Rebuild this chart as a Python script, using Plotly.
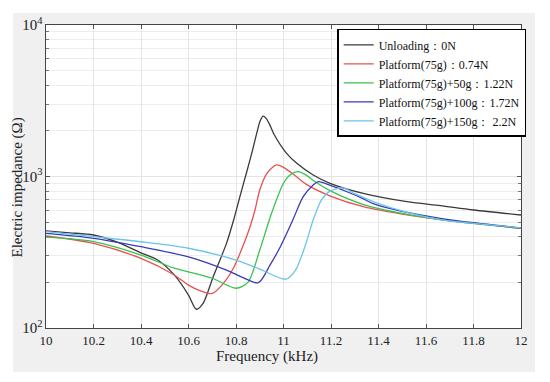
import plotly.graph_objects as go

# ---------------- data ----------------
names = [
    "Unloading：0N",
    "Platform(75g)：0.74N",
    "Platform(75g)+50g：1.22N",
    "Platform(75g)+100g：1.72N",
    "Platform(75g)+150g： 2.2N",
]

f_unload = [10.0, 10.1, 10.2, 10.3, 10.4, 10.47, 10.54, 10.6, 10.633, 10.662, 10.704, 10.76,
            10.79, 10.817, 10.845, 10.87, 10.888, 10.902, 10.914, 10.926, 10.942, 10.96,
            11.013, 11.056, 11.125, 11.196, 11.336, 11.52, 11.66, 11.8, 12.0]
z_unload = [437, 425, 411, 369, 313, 281, 224, 165, 133, 146, 218, 362,
            516, 743, 1071, 1500, 1950, 2330, 2500, 2430, 2200, 1900,
            1422, 1222, 1023, 902, 774, 682, 642, 601, 557]

f_074 = [10.0, 10.2, 10.4, 10.54, 10.6, 10.65, 10.70, 10.75, 10.79, 10.83, 10.86, 10.88,
         10.90, 10.93, 10.97, 11.0, 11.05, 11.1, 11.2, 11.34, 11.5, 11.66, 11.8, 12.0]
z_074 = [405, 362, 288, 224, 192, 176, 169, 200, 250, 350, 470, 601,
         815, 1050, 1192, 1150, 1010, 880, 740, 630, 565, 520, 490, 455]

f_122 = [10.0, 10.2, 10.4, 10.54, 10.6, 10.7, 10.8, 10.85, 10.9, 10.95, 11.0, 11.03,
         11.062, 11.1, 11.13, 11.2, 11.34, 11.5, 11.66, 11.8, 12.0]
z_122 = [398, 372, 303, 248, 235, 213, 183, 200, 327, 574, 902, 1030,
         1076, 1010, 930, 800, 650, 570, 520, 490, 455]

f_172 = [10.0, 10.2, 10.4, 10.6, 10.76, 10.83, 10.894, 10.943, 10.985, 11.04, 11.083,
         11.125, 11.147, 11.2, 11.27, 11.33, 11.38, 11.52, 11.66, 11.8, 12.0]
z_172 = [421, 391, 344, 295, 241, 215, 199, 260, 340, 520, 736,
         880, 925, 870, 790, 720, 660, 580, 530, 495, 457]

f_220 = [10.0, 10.2, 10.4, 10.6, 10.8, 10.9, 11.01, 11.05, 11.09, 11.125, 11.16,
         11.196, 11.25, 11.3, 11.38, 11.52, 11.66, 11.8, 12.0]
z_220 = [433, 401, 371, 336, 281, 245, 210, 240, 344, 516, 700,
         800, 840, 770, 680, 580, 520, 490, 458]

freqs = [f_unload, f_074, f_122, f_172, f_220]
imps = [z_unload, z_074, z_122, z_172, z_220]
colors = ["#3a3a3a", "#e8514f", "#38c24e", "#3a3ab8", "#6cc4e8"]

x_ticks = [10, 10.2, 10.4, 10.6, 10.8, 11, 11.2, 11.4, 11.6, 11.8, 12]
x_title = "Frequency (kHz)"
y_title = "Electric impedance (Ω)"

# ---------------- figure ----------------
fig = go.Figure()
for n, fx, zy, c in zip(names, freqs, imps, colors):
    fig.add_trace(go.Scatter(x=fx, y=zy, name=n, mode="lines",
                             line=dict(color=c, width=1.3, shape="spline", smoothing=0.8)))

font_family = "Liberation Serif"

# grey figure panel behind the axes
fig.add_shape(type="rect", xref="paper", yref="paper",
              x0=-0.0695, x1=1.0295, y0=-0.1452, y1=1.0396,
              fillcolor="#f0f0f0", line=dict(width=0), layer="below")
fig.add_shape(type="rect", xref="paper", yref="paper",
              x0=0, x1=1, y0=0, y1=1,
              fillcolor="white", line=dict(width=0), layer="below")

# axis titles as annotations, placed like the reference
fig.add_annotation(text=x_title, xref="paper", yref="paper", x=0.465, y=-0.0957,
                   xanchor="center", yanchor="middle", showarrow=False,
                   font=dict(family=font_family, size=15, color="#222"))
fig.add_annotation(text=y_title, xref="paper", yref="paper", x=-0.06, y=0.462,
                   xanchor="center", yanchor="middle", showarrow=False, textangle=-90,
                   font=dict(family=font_family, size=15, color="#222"))

# the page adds an 8px body margin, so the figure is 8px smaller on each side
fig.update_layout(
    width=534, height=366,
    margin=dict(l=38, r=21, t=17, b=46, autoexpand=False),
    paper_bgcolor="white",
    plot_bgcolor="rgba(0,0,0,0)",
    font=dict(family=font_family, size=12, color="#222"),
    showlegend=True,
    legend=dict(x=0.613, y=0.987, xanchor="left", yanchor="top",
                bgcolor="white", bordercolor="black", borderwidth=1.5,
                font=dict(family=font_family, size=12, color="#111"),
                tracegroupgap=2),
)

fig.update_xaxes(
    automargin=False,
    range=[10, 12], tickvals=x_ticks, ticktext=[("%g" % v) for v in x_ticks],
    ticks="inside", ticklen=4, tickcolor="#555",
    showline=True, linecolor="#444", linewidth=1, mirror="ticks",
    showgrid=True, gridcolor="#e4e4e4", gridwidth=1, zeroline=False,
    tickfont=dict(family=font_family, size=13),
)
fig.update_yaxes(
    automargin=False,
    type="log", range=[2, 4], dtick=1, exponentformat="power",
    ticks="inside", ticklen=4, tickcolor="#555",
    showline=True, linecolor="#444", linewidth=1, mirror="ticks",
    showgrid=True, gridcolor="#e4e4e4", gridwidth=1, zeroline=False,
    minor=dict(dtick="D1", ticks="inside", ticklen=3, tickcolor="#777",
               showgrid=True, gridcolor="#ededed", gridwidth=1),
    tickfont=dict(family=font_family, size=12),
)

fig.write_html("out.html")
